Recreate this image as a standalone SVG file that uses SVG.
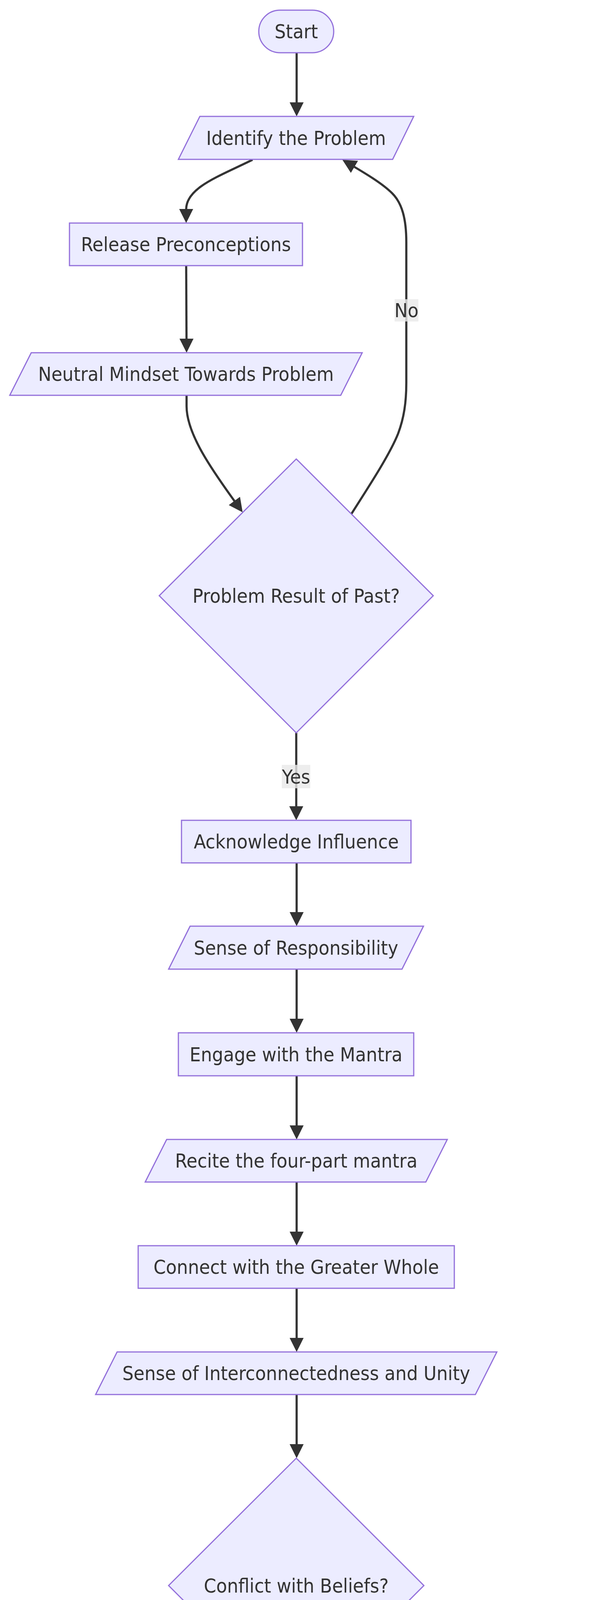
<svg xmlns="http://www.w3.org/2000/svg" width="1568" height="5070" viewBox="0 0 1568 5070">
<style>
.node{fill:#ECECFF;stroke:#9370DB;stroke-width:3}
.lbl{font-family:"DejaVu Sans Condensed","DejaVu Sans","Liberation Sans",sans-serif;font-stretch:condensed;font-size:50.5px;fill:#333333;text-anchor:middle;dominant-baseline:central}
.edge{fill:none;stroke:#333333;stroke-width:5.5}
.elbg{fill:#e8e8e8;fill-opacity:0.8}
</style>
<defs>
<marker id="arr" viewBox="0 0 10 10" refX="7.8" refY="5" markerUnits="userSpaceOnUse" markerWidth="36" markerHeight="37" orient="auto">
<path d="M0,0 L10,5 L0,10 z" fill="#333333"/>
</marker>
</defs>
<rect width="1568" height="5070" fill="#ffffff"/>
<g id="connectors">
<path class="edge" marker-end="url(#arr)" d="M760,135 L760,290"/>
<path class="edge" marker-end="url(#arr)" d="M647,409 C560,452 478,480 477,535 L477,563"/>
<path class="edge" marker-end="url(#arr)" d="M477,680 L478,895"/>
<path class="edge" marker-end="url(#arr)" d="M478,1012 L478,1040 C478,1110 540,1200 617,1305"/>
<path class="edge" marker-end="url(#arr)" d="M900,1316 C955,1230 1000,1160 1020,1110 C1035,1070 1041,1030 1041,980 L1041,620 C1041,560 1030,520 1005,495 C980,470 940,446 884,413"/>
<path class="edge" marker-end="url(#arr)" d="M759,1876 L759,2092"/>
<path class="edge" marker-end="url(#arr)" d="M760,2209 L760,2363"/>
<path class="edge" marker-end="url(#arr)" d="M760,2481 L760,2636"/>
<path class="edge" marker-end="url(#arr)" d="M760,2754 L760,2909"/>
<path class="edge" marker-end="url(#arr)" d="M760,3026 L760,3181"/>
<path class="edge" marker-end="url(#arr)" d="M760,3298 L760,3453"/>
<path class="edge" marker-end="url(#arr)" d="M760,3570 L760,3725"/>
<path class="edge" marker-end="url(#arr)" d="M602,4229 C540,4295 450,4390 400,4462 C365,4515 348,4545 348,4601"/>
<path class="edge" marker-end="url(#arr)" d="M917,4228 C980,4295 1070,4390 1118,4462 C1152,4515 1168,4545 1168,4601"/>
<path class="edge" marker-end="url(#arr)" d="M348,4718 L348,4740 C348,4790 390,4815 460,4845 C530,4870 610,4885 670,4903"/>
<path class="edge" marker-end="url(#arr)" d="M1168,4718 L1168,4740 C1168,4790 1128,4815 1058,4845 C988,4870 908,4885 848,4903"/>
<g id="edge-labels">
<rect class="elbg" x="1011" y="766" width="61" height="57"/>
<text class="lbl" x="1041.5" y="794">No</text>
<rect class="elbg" x="722" y="1958" width="73" height="60"/>
<text class="lbl" x="758.5" y="1988">Yes</text>
<rect class="elbg" x="312" y="4467" width="73" height="60"/>
<text class="lbl" x="348.5" y="4497">Yes</text>
<rect class="elbg" x="1139" y="4467" width="62" height="60"/>
<text class="lbl" x="1170" y="4497">No</text>
</g>
</g>
<g id="start">
<rect class="node" x="663" y="26" width="192" height="109" rx="54.5" ry="54.5"/>
<text class="lbl" x="759" y="80.5">Start</text>
</g>
<g id="identify">
<polygon class="node" points="512,298 1060,298 1006,408 457,408"/>
<text class="lbl" x="758.5" y="353">Identify the Problem</text>
</g>
<g id="release">
<rect class="node" x="178" y="571" width="597" height="109"/>
<text class="lbl" x="476.5" y="625.5">Release Preconceptions</text>
</g>
<g id="neutral">
<polygon class="node" points="80,903 928,903 873,1012 25,1012"/>
<text class="lbl" x="476.5" y="957.5">Neutral Mindset Towards Problem</text>
</g>
<g id="past">
<polygon class="node" points="759,1175 1110,1525 759,1876 408,1525"/>
<text class="lbl" x="759" y="1525">Problem Result of Past?</text>
</g>
<g id="acknowledge">
<rect class="node" x="465" y="2100" width="588" height="109"/>
<text class="lbl" x="759" y="2154.5">Acknowledge Influence</text>
</g>
<g id="responsibility">
<polygon class="node" points="487,2371 1085,2371 1030,2481 432,2481"/>
<text class="lbl" x="758.5" y="2426">Sense of Responsibility</text>
</g>
<g id="engage">
<rect class="node" x="457" y="2644" width="603" height="110"/>
<text class="lbl" x="758.5" y="2699">Engage with the Mantra</text>
</g>
<g id="recite">
<polygon class="node" points="427,2917 1146,2917 1091,3026 372,3026"/>
<text class="lbl" x="759" y="2971.5">Recite the four-part mantra</text>
</g>
<g id="connect">
<rect class="node" x="354" y="3189" width="810" height="109"/>
<text class="lbl" x="759" y="3243.5">Connect with the Greater Whole</text>
</g>
<g id="unity">
<polygon class="node" points="300,3461 1273,3461 1218,3570 245,3570"/>
<text class="lbl" x="759" y="3515.5">Sense of Interconnectedness and Unity</text>
</g>
<g id="conflict">
<polygon class="node" points="759,3733 1086,4059 759,4386 432,4059"/>
<text class="lbl" x="759" y="4059">Conflict with Beliefs?</text>
</g>
<g id="letgo">
<rect class="node" x="46" y="4609" width="605" height="109"/>
<text class="lbl" x="348.5" y="4663.5">Let Go Without Conflict</text>
</g>
<g id="trust">
<rect class="node" x="813" y="4609" width="713" height="109"/>
<text class="lbl" x="1169.5" y="4663.5">Trust in Divinity's Knowledge</text>
</g>
<g id="end">
<rect class="node" x="678" y="4882" width="162" height="110" rx="55" ry="55"/>
<text class="lbl" x="759" y="4937">End</text>
</g>
</svg>
